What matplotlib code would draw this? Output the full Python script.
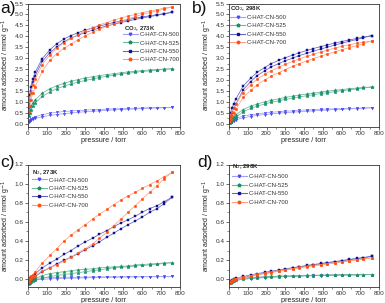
import matplotlib
matplotlib.use("Agg")
import matplotlib.pyplot as plt
from matplotlib.lines import Line2D
from matplotlib.ticker import MultipleLocator, FormatStrFormatter

plt.rcParams['font.family'] = ['Liberation Sans', 'DejaVu Sans']

# pressure points (torr)
P = [3, 8, 15, 25, 38, 75, 115, 150, 190, 225, 265, 300, 340, 375, 415, 450, 490, 525, 565, 600, 640, 680, 715, 760]

labels = ["C-HAT-CN-500", "C-HAT-CN-525", "C-HAT-CN-550", "C-HAT-CN-700"]

# ---- a) CO2 273K ----
a_500_ads = [0.08, 0.12, 0.16, 0.2, 0.24, 0.32, 0.38, 0.42, 0.46, 0.49, 0.52, 0.55, 0.57, 0.59, 0.61, 0.63, 0.65, 0.66, 0.68, 0.69, 0.71, 0.72, 0.73, 0.75]
a_500_des = [0.12, 0.17, 0.22, 0.27, 0.32, 0.42, 0.48, 0.52, 0.56, 0.58, 0.6, 0.62, 0.64, 0.65, 0.67, 0.68, 0.69, 0.7, 0.71, 0.72, 0.73, 0.74, 0.74, 0.75]
a_525_ads = [0.35, 0.5, 0.65, 0.8, 0.95, 1.25, 1.45, 1.6, 1.72, 1.82, 1.9, 1.98, 2.05, 2.11, 2.17, 2.22, 2.27, 2.31, 2.35, 2.39, 2.42, 2.45, 2.48, 2.52]
a_525_des = [0.5, 0.65, 0.8, 0.95, 1.1, 1.4, 1.6, 1.73, 1.85, 1.94, 2.02, 2.09, 2.15, 2.2, 2.25, 2.29, 2.33, 2.37, 2.4, 2.43, 2.46, 2.48, 2.5, 2.52]
a_550_ads = [0.7, 1.1, 1.5, 1.9, 2.2, 2.85, 3.25, 3.5, 3.75, 3.92, 4.05, 4.17, 4.28, 4.38, 4.47, 4.55, 4.63, 4.7, 4.77, 4.84, 4.9, 4.96, 5.02, 5.1]
a_550_des = [0.9, 1.3, 1.7, 2.05, 2.35, 2.98, 3.38, 3.65, 3.88, 4.03, 4.17, 4.28, 4.38, 4.47, 4.55, 4.63, 4.7, 4.76, 4.83, 4.88, 4.94, 4.99, 5.04, 5.1]
a_700_ads = [0.55, 0.8, 1.1, 1.4, 1.7, 2.4, 2.9, 3.2, 3.45, 3.65, 3.85, 4.02, 4.18, 4.32, 4.45, 4.57, 4.68, 4.8, 4.9, 5.0, 5.08, 5.17, 5.25, 5.35]
a_700_des = [0.8, 1.1, 1.4, 1.75, 2.05, 2.7, 3.15, 3.45, 3.7, 3.9, 4.08, 4.25, 4.4, 4.52, 4.63, 4.73, 4.83, 4.92, 5.0, 5.08, 5.15, 5.22, 5.28, 5.35]

# ---- b) CO2 298K ----
b_500_ads = [0.03, 0.06, 0.1, 0.14, 0.18, 0.27, 0.33, 0.38, 0.42, 0.45, 0.48, 0.51, 0.53, 0.55, 0.57, 0.59, 0.61, 0.63, 0.65, 0.66, 0.68, 0.69, 0.71, 0.73]
b_500_des = [0.06, 0.1, 0.15, 0.2, 0.25, 0.35, 0.41, 0.45, 0.49, 0.52, 0.55, 0.57, 0.59, 0.61, 0.63, 0.64, 0.66, 0.67, 0.68, 0.69, 0.7, 0.71, 0.72, 0.73]
b_525_ads = [0.05, 0.1, 0.16, 0.23, 0.3, 0.55, 0.7, 0.8, 0.9, 0.98, 1.05, 1.11, 1.17, 1.23, 1.28, 1.33, 1.38, 1.42, 1.47, 1.51, 1.55, 1.59, 1.63, 1.68]
b_525_des = [0.1, 0.17, 0.25, 0.33, 0.42, 0.65, 0.8, 0.9, 1.0, 1.07, 1.14, 1.2, 1.26, 1.31, 1.36, 1.4, 1.45, 1.49, 1.53, 1.56, 1.6, 1.63, 1.66, 1.68]
b_550_ads = [0.15, 0.3, 0.5, 0.7, 0.9, 1.55, 1.92, 2.2, 2.42, 2.6, 2.75, 2.88, 3.0, 3.12, 3.22, 3.32, 3.42, 3.5, 3.6, 3.68, 3.77, 3.85, 3.93, 4.03]
b_550_des = [0.3, 0.5, 0.7, 0.9, 1.15, 1.72, 2.08, 2.35, 2.57, 2.75, 2.9, 3.02, 3.14, 3.25, 3.35, 3.44, 3.53, 3.61, 3.69, 3.76, 3.83, 3.9, 3.96, 4.03]
b_700_ads = [0.12, 0.22, 0.35, 0.5, 0.68, 1.2, 1.52, 1.78, 2.0, 2.18, 2.34, 2.48, 2.62, 2.75, 2.87, 2.98, 3.09, 3.19, 3.29, 3.38, 3.48, 3.57, 3.66, 3.78]
b_700_des = [0.25, 0.4, 0.55, 0.72, 0.92, 1.42, 1.78, 2.04, 2.26, 2.43, 2.58, 2.72, 2.85, 2.97, 3.08, 3.18, 3.28, 3.37, 3.46, 3.54, 3.61, 3.68, 3.73, 3.78]

# ---- c) N2 273K ----
c_500_ads = [-0.04, -0.03, -0.02, -0.01, -0.005, 0.0, 0.005, 0.008, 0.01, 0.012, 0.014, 0.016, 0.018, 0.02, 0.021, 0.022, 0.023, 0.024, 0.025, 0.026, 0.027, 0.028, 0.029, 0.03]
c_500_des = [-0.02, -0.01, 0.0, 0.005, 0.01, 0.015, 0.018, 0.02, 0.021, 0.022, 0.023, 0.024, 0.025, 0.026, 0.026, 0.027, 0.027, 0.028, 0.028, 0.029, 0.029, 0.03, 0.03, 0.03]
c_525_ads = [-0.05, -0.04, -0.03, -0.02, -0.01, 0.01, 0.03, 0.04, 0.05, 0.06, 0.07, 0.08, 0.09, 0.1, 0.11, 0.12, 0.125, 0.13, 0.14, 0.145, 0.15, 0.16, 0.165, 0.175]
c_525_des = [-0.03, -0.02, -0.01, 0.0, 0.01, 0.04, 0.06, 0.07, 0.08, 0.09, 0.1, 0.105, 0.11, 0.12, 0.125, 0.13, 0.135, 0.14, 0.15, 0.155, 0.16, 0.165, 0.17, 0.175]
c_550_ads = [-0.04, -0.02, -0.01, 0.01, 0.03, 0.08, 0.12, 0.16, 0.2, 0.23, 0.27, 0.31, 0.35, 0.39, 0.44, 0.48, 0.53, 0.57, 0.61, 0.65, 0.7, 0.74, 0.79, 0.86]
c_550_des = [-0.01, 0.01, 0.02, 0.04, 0.06, 0.12, 0.17, 0.21, 0.26, 0.3, 0.35, 0.39, 0.43, 0.47, 0.51, 0.55, 0.59, 0.62, 0.66, 0.7, 0.74, 0.77, 0.81, 0.86]
c_700_ads = [-0.03, -0.01, 0.0, 0.02, 0.04, 0.09, 0.12, 0.15, 0.19, 0.23, 0.28, 0.32, 0.37, 0.43, 0.49, 0.56, 0.63, 0.7, 0.77, 0.84, 0.91, 0.98, 1.05, 1.12]
c_700_des = [0.0, 0.01, 0.03, 0.05, 0.08, 0.17, 0.25, 0.32, 0.4, 0.46, 0.52, 0.57, 0.63, 0.68, 0.73, 0.78, 0.83, 0.87, 0.91, 0.95, 0.99, 1.03, 1.07, 1.12]

# ---- d) N2 298K ----
d_500_ads = [-0.04, -0.035, -0.03, -0.02, -0.01, 0.0, 0.008, 0.013, 0.018, 0.022, 0.026, 0.029, 0.032, 0.034, 0.036, 0.038, 0.04, 0.042, 0.043, 0.045, 0.046, 0.047, 0.048, 0.05]
d_500_des = [-0.03, -0.02, -0.01, 0.0, 0.005, 0.012, 0.017, 0.021, 0.025, 0.028, 0.031, 0.033, 0.035, 0.037, 0.039, 0.041, 0.042, 0.044, 0.045, 0.046, 0.047, 0.048, 0.049, 0.05]
d_525_ads = [-0.04, -0.035, -0.03, -0.02, -0.01, 0.002, 0.01, 0.015, 0.02, 0.024, 0.028, 0.031, 0.034, 0.036, 0.038, 0.04, 0.042, 0.043, 0.045, 0.046, 0.047, 0.048, 0.049, 0.05]
d_525_des = [-0.03, -0.02, -0.01, 0.0, 0.006, 0.014, 0.019, 0.023, 0.027, 0.03, 0.033, 0.035, 0.037, 0.039, 0.041, 0.042, 0.044, 0.045, 0.046, 0.047, 0.048, 0.049, 0.05, 0.05]
d_550_ads = [-0.04, -0.03, -0.02, -0.01, 0.0, 0.02, 0.035, 0.05, 0.065, 0.075, 0.09, 0.1, 0.115, 0.125, 0.14, 0.15, 0.16, 0.17, 0.18, 0.19, 0.205, 0.215, 0.225, 0.24]
d_550_des = [-0.03, -0.02, -0.01, 0.0, 0.01, 0.03, 0.045, 0.06, 0.073, 0.085, 0.098, 0.11, 0.122, 0.133, 0.145, 0.155, 0.166, 0.176, 0.186, 0.196, 0.208, 0.218, 0.228, 0.24]
d_700_ads = [-0.04, -0.03, -0.02, -0.01, 0.0, 0.015, 0.03, 0.045, 0.058, 0.07, 0.083, 0.095, 0.108, 0.118, 0.13, 0.14, 0.15, 0.16, 0.17, 0.18, 0.19, 0.2, 0.21, 0.225]
d_700_des = [-0.03, -0.02, -0.01, 0.0, 0.008, 0.025, 0.04, 0.054, 0.066, 0.078, 0.09, 0.102, 0.113, 0.124, 0.135, 0.145, 0.155, 0.165, 0.175, 0.185, 0.195, 0.204, 0.213, 0.225]

marker_colors = ["#4a4af5", "#139265", "#12128f", "#ff5012"]
line_colors = ["#a0a0f8", "#70b89a", "#6464c4", "#ffa080"]
markers = ["v", "*", "s", "o"]
msizes = [1.8, 2.6, 1.7, 1.8]

panels = [
    ("a)", "CO$_2$, 273K", [(a_500_ads, a_500_des), (a_525_ads, a_525_des), (a_550_ads, a_550_des), (a_700_ads, a_700_des)]),
    ("b)", "CO$_2$, 298K", [(b_500_ads, b_500_des), (b_525_ads, b_525_des), (b_550_ads, b_550_des), (b_700_ads, b_700_des)]),
    ("c)", "N$_2$, 273K", [(c_500_ads, c_500_des), (c_525_ads, c_525_des), (c_550_ads, c_550_des), (c_700_ads, c_700_des)]),
    ("d)", "N$_2$, 298K", [(d_500_ads, d_500_des), (d_525_ads, d_525_des), (d_550_ads, d_550_des), (d_700_ads, d_700_des)]),
]

W, H = 385, 303
fig = plt.figure(figsize=(W / 100, H / 100), dpi=100)

# axes rectangles in pixels: left, top, right, bottom
rects = [(28, 3.5, 180, 127), (229, 3.5, 379, 127), (28, 164.5, 180, 287), (229, 164.5, 379, 287)]
ylims = [(-0.15, 5.5), (-0.15, 5.5), (-0.08, 1.2), (-0.08, 1.2)]
ymaj = [0.5, 0.5, 0.2, 0.2]
ymin = [0.25, 0.25, 0.1, 0.1]
legpos = [(0.625, 0.77), (0.007, 0.91), (0.026, 0.895), (0.018, 0.92)]
titlepos = [(0.632, 0.794), (0.007, 0.955), (0.024, 0.937), (0.02, 0.985)]
letterpos = [(0, 1), (192, 1), (0, 155), (197, 155)]

for i, (letter, title, series) in enumerate(panels):
    l, t, r, b = rects[i]
    ax = fig.add_axes([l / W, (H - b) / H, (r - l) / W, (b - t) / H])
    for k, (ads, des) in enumerate(series):
        for vals in (ads, des):
            ax.plot(P, vals, color=line_colors[k], lw=0.55, marker=markers[k],
                    ms=msizes[k], mfc=marker_colors[k],
                    mec=marker_colors[k], mew=0.3, zorder=2 + k * 0.1)
    ax.set_xlim(0, 800)
    ax.set_ylim(*ylims[i])
    ax.xaxis.set_major_locator(MultipleLocator(100))
    ax.xaxis.set_minor_locator(MultipleLocator(50))
    ax.yaxis.set_major_locator(MultipleLocator(ymaj[i]))
    ax.yaxis.set_minor_locator(MultipleLocator(ymin[i]))
    ax.yaxis.set_major_formatter(FormatStrFormatter("%.1f"))
    ax.tick_params(which="major", direction="out", length=2, width=0.5, labelsize=4.6, pad=1,
                   colors="#333333", labelcolor="#333333")
    ax.tick_params(which="minor", direction="out", length=1.2, width=0.4, colors="#333333")
    for s in ax.spines.values():
        s.set_linewidth(0.6)
        s.set_color("#333333")
    ax.set_xlabel("pressure / torr", fontsize=5.2, labelpad=0.5, color="#222222")
    ax.set_ylabel("amount adsorbed / mmol g$^{-1}$", fontsize=5.0, labelpad=1.5, color="#222222")

    handles = [Line2D([0], [0], color=line_colors[k], lw=0.8, marker=markers[k],
                      ms=msizes[k], mfc=marker_colors[k], mec=marker_colors[k])
               for k in range(4)]
    leg = ax.legend(handles, labels, loc="upper left", bbox_to_anchor=legpos[i], frameon=False,
                    prop={"family": ["Liberation Sans Narrow", "Liberation Sans"], "size": 4.3},
                    handlelength=2.5, handletextpad=0.35, labelspacing=0.55,
                    borderaxespad=0, borderpad=0)
    for txt in leg.get_texts():
        txt.set_color("#333333")
    ax.text(titlepos[i][0], titlepos[i][1], title, transform=ax.transAxes, fontsize=4.3,
            fontweight="bold", ha="left", va="center", color="#222222")

    fig.text(letterpos[i][0] / W, 1 - letterpos[i][1] / H, letter, fontsize=12.5, va="top", ha="left",
             color="#111111")

fig.savefig("out.png", dpi=100)
